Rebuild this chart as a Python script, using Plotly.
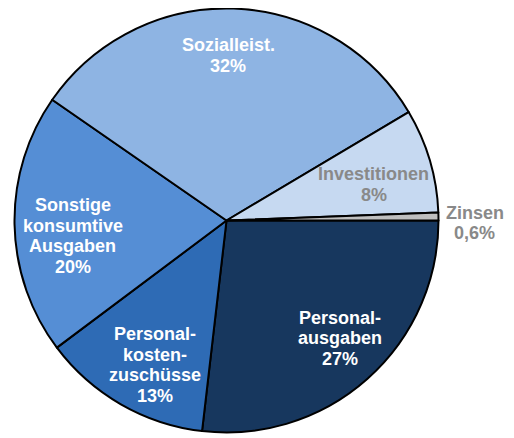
import math
import plotly.graph_objects as go

# Anteile der Ausgaben (Prozent), im Uhrzeigersinn ab 3 Uhr
labels = [["Personal-", "ausgaben"], ["Personal-", "kosten-", "zuschüsse"],
          ["Sonstige", "konsumtive", "Ausgaben"], ["Sozialleist."],
          ["Investitionen"], ["Zinsen"]]
values = [27, 13, 20, 32, 8, 0.6]
value_texts = ["27%", "13%", "20%", "32%", "8%", "0,6%"]

colors = ["#17375E", "#2E6BB5", "#558ED5", "#8EB4E3", "#C6D9F1", "#BFBFBF"]
text_colors = ["white", "white", "white", "white", "#898989", "#898989"]
# Lage der Beschriftung: Anteil vom Radius und Winkelversatz zur Segmentmitte
label_radius = [0.772, 0.761, 0.728, 0.779, 0.714, 1.171]
label_shift = [-2.2, -3.5, -4.7, -1.4, 2.7, 1.6]

# die Seite hat 8px Rand, daher etwas kleiner und verschoben
PAD = 8
W, H = 514 - PAD, 438 - PAD
cx_px, cy_px, r_px = 226.5 - PAD, 220.5 - PAD, 212
line_h = 20.5


def clamp(v):
    return min(max(v, 0.0), 1.0)


fig = go.Figure(go.Pie(
    values=values,
    textinfo="none",
    marker=dict(colors=colors, line=dict(color="black", width=2)),
    sort=False,
    direction="clockwise",
    rotation=90,
    hoverinfo="skip",
    domain=dict(x=[clamp((cx_px - r_px) / W), clamp((cx_px + r_px) / W)],
                y=[clamp(1 - (cy_px + r_px) / H),
                   clamp(1 - (cy_px - r_px) / H)]),
))

# Beschriftungen je Segment
total = sum(values)
start = 90.0
for lab, val, vt, col, rf, sh in zip(labels, values, value_texts,
                                      text_colors, label_radius, label_shift):
    span = val / total * 360
    mid = math.radians(start + span / 2 + sh)
    start += span
    x = (cx_px + rf * r_px * math.sin(mid)) / W
    y = 1 - (cy_px - rf * r_px * math.cos(mid)) / H
    lines = lab + [vt]
    n = len(lines)
    for i, line in enumerate(lines):
        fig.add_annotation(
            x=x, y=y, xref="paper", yref="paper",
            xanchor="center", yanchor="middle",
            yshift=((n - 1) / 2 - i) * line_h,
            text=f"<b>{line}</b>", showarrow=False,
            font=dict(family="Liberation Sans", size=18, color=col),
        )

fig.update_layout(
    width=W, height=H,
    margin=dict(l=0, r=0, t=0, b=0),
    showlegend=False,
    paper_bgcolor="white",
)

fig.write_html("out.html")
